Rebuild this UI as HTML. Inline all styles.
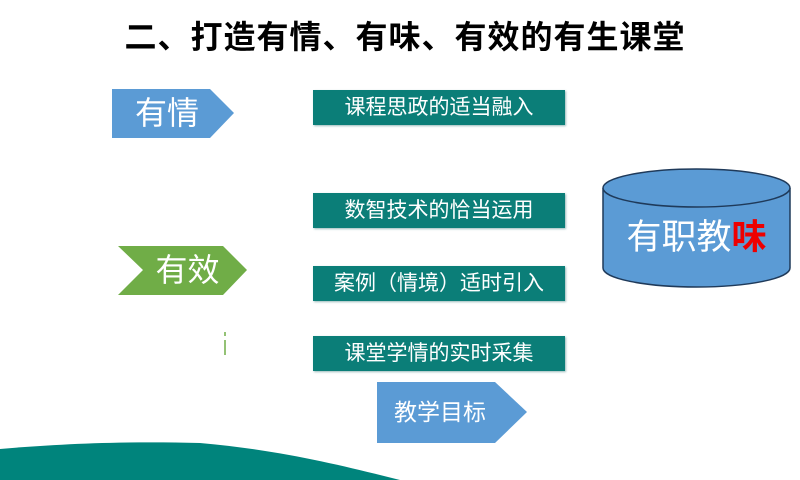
<!DOCTYPE html>
<html><head><meta charset="utf-8"><style>
body{margin:0;width:800px;height:480px;overflow:hidden;background:#fff;position:relative;font-family:"Liberation Sans","Noto Sans CJK SC",sans-serif}
.t{position:absolute;left:0;width:800px;top:12px;text-align:center;font-size:32px;font-weight:bold;color:#000;letter-spacing:1px;padding-left:10px;box-sizing:border-box}
.b{position:absolute;left:313px;width:252px;height:35px;background:#0b7e78;color:#fff;font-size:21px;line-height:35px;text-align:center;box-shadow:1px 1px 2px #9bb}
.c{position:absolute;color:#fff}
</style></head><body>
<div class="t">二、打造有情、有味、有效的有生课堂</div>
<svg width="800" height="480" style="position:absolute;left:0;top:0">
<polygon points="112,89 210,89 234,113 210,138 112,138" fill="#5b9bd5"/>
<polygon points="118,246 223,246 247,270 223,295 118,295 143,270" fill="#70ad47"/>
<polygon points="377,382 495,382 527,412 495,443 377,443" fill="#5b9bd5"/>
<line x1="225" y1="332" x2="225" y2="336" stroke="#70ad47" stroke-width="1.5"/>
<line x1="225" y1="340" x2="225" y2="355" stroke="#70ad47" stroke-width="1.5"/>
<path d="M603,188 L603,268 A93.5,19 0 0 0 790,268 L790,188" fill="#5b9bd5" stroke="#1f3a5a" stroke-width="1.5"/>
<ellipse cx="696.5" cy="188" rx="93.5" ry="19" fill="#5b9bd5" stroke="#1f3a5a" stroke-width="1.5"/>
<path d="M0,449 C60,444 120,441 200,443 C280,450 340,465 400,480 L0,480 Z" fill="#00847c"/>
</svg>
<div class="c" style="left:112px;top:93px;width:110px;text-align:center;font-size:32px;line-height:40px">有情</div>
<div class="c" style="left:140px;top:250px;width:95px;text-align:center;font-size:32px;line-height:40px">有效</div>
<div class="c" style="left:385px;top:395px;width:110px;text-align:center;font-size:23px;line-height:34px">教学目标</div>
<div class="b" style="top:90px">课程思政的适当融入</div>
<div class="b" style="top:193px">数智技术的恰当运用</div>
<div class="b" style="top:266px">案例（情境）适时引入</div>
<div class="b" style="top:336px">课堂学情的实时采集</div>
<div class="c" style="left:603px;top:215px;width:187px;text-align:center;font-size:35px;line-height:46px">有职教<span style="color:#e00;font-weight:bold">味</span></div>
</body></html>
